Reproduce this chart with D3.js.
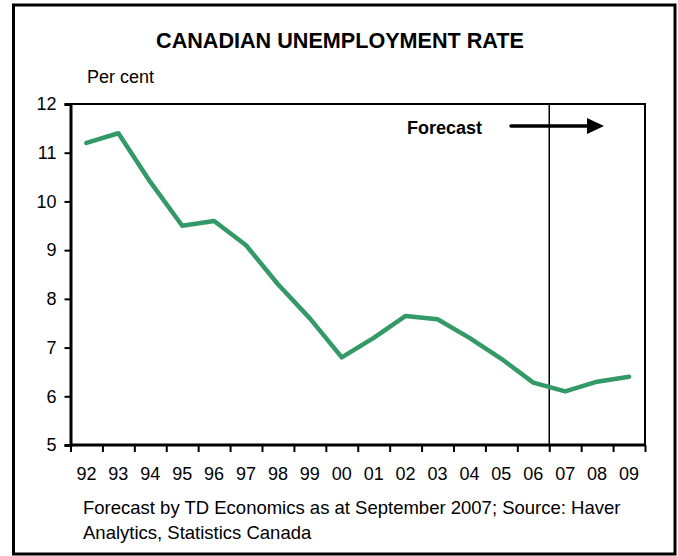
<!DOCTYPE html>
<html>
<head>
<meta charset="utf-8">
<script src="https://cdn.jsdelivr.net/npm/d3@7"></script>
<style>
  html, body { margin: 0; padding: 0; background: #fff; }
  svg { display: block; font-family: "Liberation Sans", Arial, sans-serif; }
</style>
</head>
<body>
<svg id="chart" width="678" height="556"></svg>
<script>
// Canadian unemployment rate, annual, per cent (2007 onward is forecast)
const years = ["92","93","94","95","96","97","98","99","00","01","02","03","04","05","06","07","08","09"];
const rates = [11.2, 11.4, 10.4, 9.5, 9.6, 9.1, 8.3, 7.6, 6.8, 7.2, 7.65, 7.58, 7.2, 6.77, 6.28, 6.1, 6.3, 6.4];
const yTicks = [5, 6, 7, 8, 9, 10, 11, 12];
const forecastStart = "07";

const svg = d3.select("#chart");
const plot = { left: 70.5, right: 645, top: 104, bottom: 445 };

// outer frame
svg.append("rect")
  .attr("x", 13.5).attr("y", 5)
  .attr("width", 661.5).attr("height", 549)
  .attr("fill", "none").attr("stroke", "#000").attr("stroke-width", 3);

// title and unit label
svg.append("text")
  .attr("x", 340).attr("y", 48)
  .attr("text-anchor", "middle")
  .attr("font-size", 21.6).attr("font-weight", "bold")
  .text("CANADIAN UNEMPLOYMENT RATE");

svg.append("text")
  .attr("x", 87).attr("y", 83)
  .attr("font-size", 18)
  .text("Per cent");

const x = d3.scaleBand().domain(years).range([plot.left, plot.right]).padding(0);
const xEdge = d3.scaleLinear().domain([0, years.length]).range([plot.left, plot.right]);
const y = d3.scaleLinear().domain([5, 12]).range([plot.bottom, plot.top]);

// top and right frame of the plot area
svg.append("path")
  .attr("d", `M${plot.left},${plot.top}H${plot.right}V${plot.bottom}`)
  .attr("fill", "none").attr("stroke", "#000").attr("stroke-width", 2);

// y axis
const yAxis = svg.append("g")
  .attr("transform", `translate(${plot.left},0)`)
  .call(d3.axisLeft(y).tickValues(yTicks).tickSize(6).tickPadding(8).tickFormat(d3.format("d")));
yAxis.select(".domain").attr("stroke-width", 3);
yAxis.selectAll(".tick line").attr("stroke-width", 2);
yAxis.selectAll("text").attr("font-size", 18).attr("font-family", null).attr("fill", "#000");

// x axis: ticks at the category boundaries, labels centred in each year
const xAxis = svg.append("g")
  .attr("transform", `translate(0,${plot.bottom})`)
  .call(d3.axisBottom(xEdge).tickValues(d3.range(years.length + 1)).tickSize(7).tickFormat(""));
xAxis.select(".domain").attr("stroke-width", 3).attr("d", `M${plot.left},0H${plot.right}`);
xAxis.selectAll(".tick line").attr("stroke-width", 2);

const xLabels = svg.append("g")
  .attr("transform", `translate(0,${plot.bottom})`)
  .call(d3.axisBottom(x).tickSize(0).tickPadding(22));
xLabels.select(".domain").remove();
xLabels.selectAll("text").attr("font-size", 18).attr("font-family", null).attr("fill", "#000");

// forecast divider
const fx = x(forecastStart);
svg.append("line")
  .attr("x1", fx).attr("x2", fx)
  .attr("y1", plot.top).attr("y2", plot.bottom)
  .attr("stroke", "#000").attr("stroke-width", 1.5);

// forecast annotation
svg.append("text")
  .attr("x", 407).attr("y", 134)
  .attr("font-size", 18).attr("font-weight", "bold")
  .text("Forecast");
svg.append("line")
  .attr("x1", 511).attr("x2", 590)
  .attr("y1", 126).attr("y2", 126)
  .attr("stroke", "#000").attr("stroke-width", 3.5).attr("stroke-linecap", "round");
svg.append("path")
  .attr("d", "M587,118L604,126L587,134Z")
  .attr("fill", "#000");

// unemployment rate line
const line = d3.line()
  .x((d, i) => x(years[i]) + x.bandwidth() / 2)
  .y(d => y(d));
svg.append("path")
  .datum(rates)
  .attr("d", line)
  .attr("fill", "none")
  .attr("stroke", "#339966")
  .attr("stroke-width", 4.5)
  .attr("stroke-linejoin", "round")
  .attr("stroke-linecap", "round");

// source note
const note = svg.append("text").attr("font-size", 18.5);
note.append("tspan").attr("x", 83).attr("y", 514)
  .text("Forecast by TD Economics as at September 2007; Source: Haver");
note.append("tspan").attr("x", 83).attr("y", 539)
  .text("Analytics, Statistics Canada");
</script>
</body>
</html>
